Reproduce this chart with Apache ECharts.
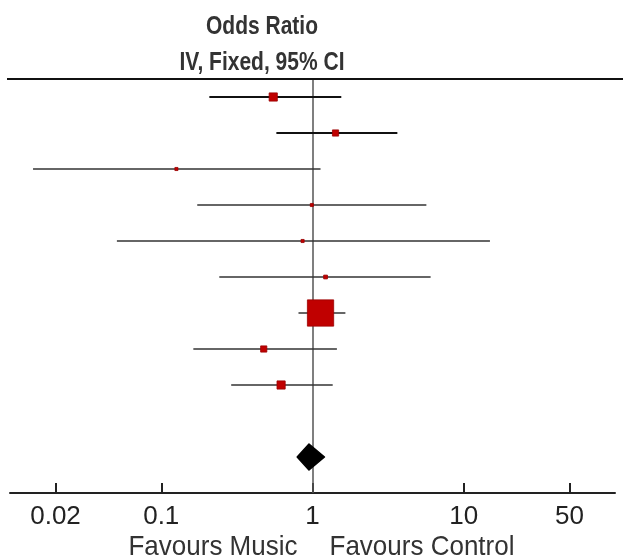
<!DOCTYPE html>
<html>
<head>
<meta charset="utf-8">
<script src="https://cdn.jsdelivr.net/npm/echarts@6/dist/echarts.min.js"></script>
<style>html,body{margin:0;padding:0;background:#fff}#c{width:623px;height:560px}</style>
</head>
<body>
<div id="c"></div>
<script>
// Study-level odds ratios (IV, Fixed, 95% CI)
const oddsRatio = [0.55, 1.42, 0.126, 0.99, 0.86, 1.22, 1.13, 0.476, 0.62];
const ciLower   = [0.208, 0.577, 0.0142, 0.173, 0.0509, 0.242, 0.808, 0.163, 0.290];
const ciUpper   = [1.55, 3.64, 1.13, 5.66, 14.9, 6.04, 1.65, 1.45, 1.36];
const weights   = [7, 4, 1, 1, 1, 1.5, 72, 4, 7];
// Pooled estimate: [estimate, lower, upper]
const pooled = [0.948, 0.792, 1.20];
const tickValues = [0.02, 0.1, 1, 10, 50];
const tickLabels = ['0.02', '0.1', '1', '10', '50'];
const titleLines = ['Odds Ratio', 'IV, Fixed, 95% CI'];
const favourLabels = ['Favours Music', 'Favours Control'];

const L = Math.log10;
const studyData = oddsRatio.map((v, i) => [L(ciLower[i]), L(v), L(ciUpper[i]), i, weights[i]]);
const pooledRow = oddsRatio.length + 1;
const pooledData = [[L(pooled[1]), L(pooled[0]), L(pooled[2]), pooledRow]];
const tickLog = tickValues.map(L);
const FONT = '"Liberation Sans", Arial, sans-serif';

const chart = echarts.init(document.getElementById('c'), null, {renderer: 'canvas'});
chart.setOption({
  animation: false,
  backgroundColor: '#fff',
  grid: {left: 10, right: 8, top: 79, bottom: 67},
  xAxis: {
    type: 'value', min: -2, max: 2, position: 'bottom',
    axisLine: {show: true, onZero: false, lineStyle: {color: '#222', width: 2}},
    axisTick: {show: true, inside: true, length: 10, lineStyle: {color: '#222', width: 2}, customValues: tickLog},
    axisLabel: {
      customValues: tickLog, fontSize: 26, color: '#222', margin: 11, fontFamily: FONT,
      formatter: function (v) {
        let best = 0, d = Infinity;
        tickLog.forEach((t, i) => { if (Math.abs(t - v) < d) { d = Math.abs(t - v); best = i; } });
        return tickLabels[best];
      }
    },
    splitLine: {show: false}
  },
  yAxis: {type: 'value', inverse: true, min: -0.5, max: 11, show: false},
  graphic: [
    {type: 'line', z: 10, shape: {x1: 7, y1: 79, x2: 623, y2: 79}, style: {stroke: '#111', lineWidth: 2}},
    {type: 'text', x: 262, y: 27, scaleY: 1.2, style: {text: titleLines[0], font: 'bold 21px ' + FONT, fill: '#333', textAlign: 'center', textVerticalAlign: 'middle'}},
    {type: 'text', x: 262, y: 63, scaleY: 1.2, style: {text: titleLines[1], font: 'bold 21px ' + FONT, fill: '#333', textAlign: 'center', textVerticalAlign: 'middle'}},
    {type: 'text', x: 213, y: 547, scaleY: 1.08, style: {text: favourLabels[0], font: '26px ' + FONT, fill: '#333', textAlign: 'center', textVerticalAlign: 'middle'}},
    {type: 'text', x: 422, y: 547, scaleY: 1.08, style: {text: favourLabels[1], font: '26px ' + FONT, fill: '#333', textAlign: 'center', textVerticalAlign: 'middle'}}
  ],
  series: [
    {
      type: 'custom',
      data: studyData,
      z: 3,
      renderItem: function (params, api) {
        const lo = api.coord([api.value(0), api.value(3)]);
        const est = api.coord([api.value(1), api.value(3)]);
        const hi = api.coord([api.value(2), api.value(3)]);
        const size = 3.1 * Math.sqrt(api.value(4));
        const thick = params.dataIndex < 2;
        return {
          type: 'group',
          children: [
            {type: 'line', shape: {x1: lo[0], y1: lo[1], x2: hi[0], y2: hi[1]},
             style: {stroke: thick ? '#111' : '#333', lineWidth: thick ? 2 : 1.6}},
            {type: 'rect', shape: {x: est[0] - size / 2, y: est[1] - size / 2, width: size, height: size},
             style: {fill: '#c00000', stroke: '#9a0000', lineWidth: 0.8}}
          ]
        };
      },
      markLine: {
        silent: true, symbol: 'none', z: 1,
        lineStyle: {color: '#555', width: 1.5, type: 'solid'},
        label: {show: false},
        data: [{xAxis: 0}]
      }
    },
    {
      type: 'custom',
      data: pooledData,
      z: 4,
      renderItem: function (params, api) {
        const lo = api.coord([api.value(0), api.value(3)]);
        const est = api.coord([api.value(1), api.value(3)]);
        const hi = api.coord([api.value(2), api.value(3)]);
        const h = 13;
        return {
          type: 'polygon',
          shape: {points: [[lo[0], lo[1]], [est[0], est[1] - h], [hi[0], hi[1]], [est[0], est[1] + h]]},
          style: {fill: '#000', stroke: '#000', lineWidth: 1.5, lineJoin: 'round'}
        };
      }
    }
  ]
});
</script>
</body>
</html>
